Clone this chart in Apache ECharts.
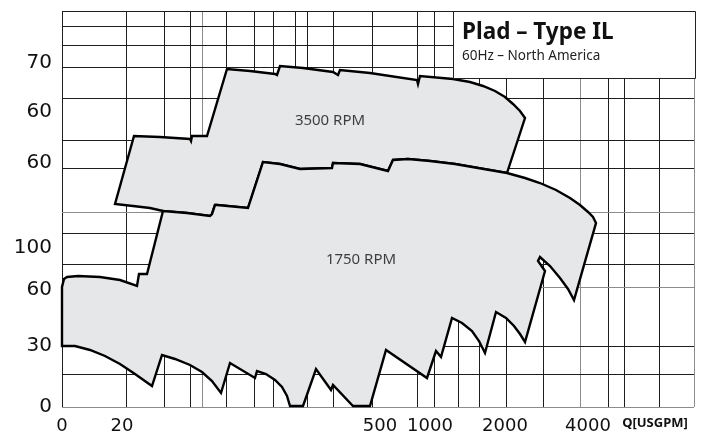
<!DOCTYPE html>
<html><head><meta charset="utf-8">
<script src="https://cdn.jsdelivr.net/npm/echarts@6/dist/echarts.min.js"></script>
<style>html,body{margin:0;padding:0;background:#fff}#c{width:705px;height:436px}</style>
</head><body><div id="c"></div>
<script>
// Chart units: x = position along the (non-linear) Q scale, y = position along the head scale
const X_MAX = 632, Y_MAX = 396;
const xTickPos = [0, 60, 318, 368, 443, 526, 593];
const xTickLabels = ['0', '20', '500', '1000', '2000', '4000', 'Q[USGPM]'];
const yTickPos = [0, 61, 117, 159, 244, 295, 344];
const yTickLabels = ['0', '30', '60', '100', '60', '60', '70'];

const vGridBlack = [0, 64, 102, 128, 164, 192, 211, 233, 245, 271, 310, 355, 372, 396, 417, 444, 481, 546, 562, 597];
const vGridGray = [140, 518, 632];
const hGridBlack = [396, 381, 362, 340, 309, 267, 239, 174, 143, 61, 33];
const hGridGray = [195, 120, 0];

const curve3500 = [
  [53,203],[72,271],[98,270],[128,268],[129,266],[130,271],[145,271],[165,338],[188,336],[213,333],
  [215,332],[218,341],[241,339],[271,335],[276,332],[278,337],[308,334],[355,327],[356,323],[358,331],
  [391,328],[408,325],[421,321],[433,316],[443,310],[451,303],[458,296],[463,289],[445,234],[416,239],
  [393,243],[368,246],[346,248],[331,247],[326,236],[298,243],[271,244],[270,239],[238,238],[218,243],
  [201,245],[186,199],[155,202],[153,202],[150,193],[148,191],[125,194],[101,196],[88,199],[71,201]
];
const curve1750 = [
  [0,61],[0,120],[2,128],[5,130],[16,131],[38,130],[58,127],[75,121],[77,133],[85,133],
  [101,196],[125,194],[148,191],[150,193],[153,202],[155,202],[186,199],[201,245],[218,243],[238,238],
  [270,239],[271,244],[298,243],[326,236],[331,247],[346,248],[368,246],[393,243],[416,239],[445,234],
  [463,229],[478,224],[494,217],[508,209],[518,202],[526,195],[531,190],[534,184],
  [512,107],[506,118],[498,129],[488,141],[478,150],[476,146],[483,136],
  [463,65],[458,73],[452,81],[444,89],[434,95],
  [423,54],[417,66],[410,76],[400,84],[390,89],
  [379,50],[374,56],[365,29],[324,57],[308,1],[291,1],[271,22],[269,17],[254,38],[241,1],[228,1],
  [225,11],[220,20],[213,27],[204,33],[195,36],[193,29],[168,44],
  [159,14],[150,26],[140,35],[128,42],[113,48],[100,52],
  [90,21],[73,33],[58,43],[43,51],[28,57],[13,61]
];
const rpmLabels = [
  { name: '3500 RPM', value: [268, 286] },
  { name: '1750 RPM', value: [299, 147] }
];

const chart = echarts.init(document.getElementById('c'), null, { renderer: 'canvas' });

function crisp(v) { return Math.round(v) + 0.5; }

function vLines(data, color) {
  return {
    type: 'custom', z: 1, silent: true,
    data: data.map(v => [v, 0]),
    renderItem: (p, api) => {
      const x = crisp(api.coord([api.value(0), 0])[0]);
      const y0 = api.coord([0, 0])[1], y1 = api.coord([0, Y_MAX])[1];
      return { type: 'line', shape: { x1: x, y1: y0, x2: x, y2: y1 }, style: { stroke: color, lineWidth: 1 } };
    }
  };
}
function hLines(data, color) {
  return {
    type: 'custom', z: 1, silent: true,
    data: data.map(v => [0, v]),
    renderItem: (p, api) => {
      const y = crisp(api.coord([0, api.value(1)])[1]);
      const x0 = api.coord([0, 0])[0], x1 = api.coord([X_MAX, 0])[0];
      return { type: 'line', shape: { x1: x0, y1: y, x2: x1, y2: y }, style: { stroke: color, lineWidth: 1 } };
    }
  };
}
function area(points, z) {
  return {
    type: 'custom', z: z, silent: true,
    data: points,
    renderItem: (p, api) => {
      if (p.dataIndex !== 0) return null;
      return {
        type: 'polygon',
        shape: { points: points.map(pt => api.coord(pt)) },
        style: { fill: '#e6e7e9', stroke: '#000', lineWidth: 2.4, lineJoin: 'miter' }
      };
    }
  };
}

chart.setOption({
  animation: false,
  backgroundColor: '#fff',
  title: {
    text: 'Plad – Type IL',
    subtext: '60Hz – North America',
    left: 453, top: 11,
    padding: [9, 82, 15, 9],
    itemGap: 2,
    backgroundColor: '#fff',
    borderColor: '#222',
    borderWidth: 1,
    textStyle: { fontFamily: 'Noto Sans', fontWeight: 'bold', fontSize: 22.5, color: '#111', lineHeight: 26 },
    subtextStyle: { fontFamily: 'Noto Sans', fontSize: 13.5, color: '#222', lineHeight: 16 }
  },
  grid: { left: 62, right: 11, top: 11, bottom: 29, containLabel: false },
  xAxis: {
    type: 'value', min: 0, max: X_MAX,
    axisLine: { show: false }, axisTick: { show: false }, splitLine: { show: false },
    axisLabel: {
      customValues: xTickPos,
      margin: 10,
      fontFamily: 'DejaVu Sans', fontSize: 18, color: '#111',
      formatter: v => {
        const t = xTickLabels[xTickPos.indexOf(v)];
        return t === 'Q[USGPM]' ? '{q|' + t + '}' : t;
      },
      rich: { q: { fontFamily: 'Noto Sans', fontWeight: 'bold', fontSize: 13, color: '#111' } }
    }
  },
  yAxis: {
    type: 'value', min: 0, max: Y_MAX,
    axisLine: { show: false }, axisTick: { show: false }, splitLine: { show: false },
    axisLabel: {
      customValues: yTickPos,
      margin: 10,
      fontFamily: 'DejaVu Sans', fontSize: 20, color: '#111',
      formatter: v => yTickLabels[yTickPos.indexOf(v)]
    }
  },
  series: [
    vLines(vGridBlack, '#1e1e1e'),
    vLines(vGridGray, '#8c8c8c'),
    hLines(hGridBlack, '#1e1e1e'),
    hLines(hGridGray, '#8c8c8c'),
    area(curve3500, 3),
    area(curve1750, 4),
    {
      type: 'scatter', z: 6, silent: true, symbolSize: 0,
      data: rpmLabels,
      label: {
        show: true, position: 'inside', formatter: p => p.name,
        fontFamily: 'Noto Sans', fontSize: 15, color: '#111'
      }
    }
  ]
});
</script></body></html>
